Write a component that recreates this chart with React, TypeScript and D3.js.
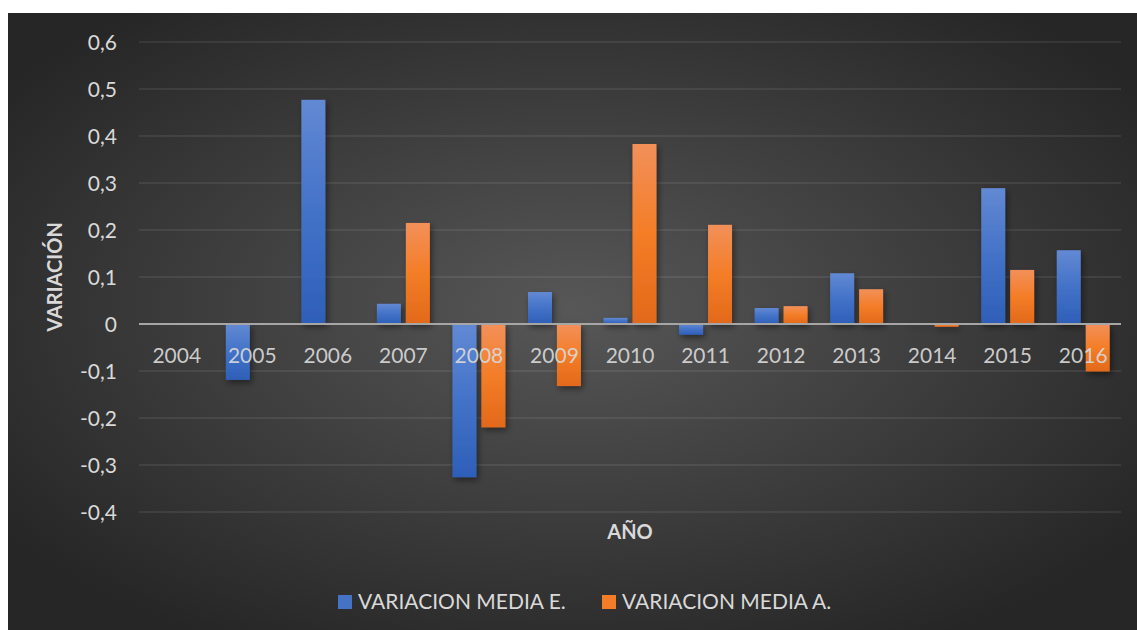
import React from "react";
import * as d3 from "d3";

const years = ["2004","2005","2006","2007","2008","2009","2010","2011","2012","2013","2014","2015","2016"];
const mediaE = [0, -0.119, 0.477, 0.043, -0.326, 0.068, 0.013, -0.023, 0.034, 0.108, 0.002, 0.289, 0.157];
const mediaA = [0, 0, 0, 0.215, -0.22, -0.132, 0.383, 0.211, 0.038, 0.074, -0.006, 0.115, -0.101];
const seriesNames = ["VARIACION MEDIA E.", "VARIACION MEDIA A."];
const yTicks = [-0.4, -0.3, -0.2, -0.1, 0, 0.1, 0.2, 0.3, 0.4, 0.5, 0.6];

const W = 1137;
const H = 630;
const FONT = "Lato, 'Open Sans', sans-serif";
const TEXT = "#d9d9d9";

const esLocale = d3.formatLocale({ decimal: ",", thousands: ".", grouping: [3], currency: ["", "€"], minus: "-" });
const fmt = esLocale.format(".1~f");

export default function App() {
  const x = d3.scaleBand<string>().domain(years).range([139, 1121]).paddingInner(0).paddingOuter(0);
  const xs = d3.scaleBand<string>().domain(["E", "A"]).range([0, x.bandwidth()]).paddingInner(0.172).paddingOuter(0.39);
  const y = d3.scaleLinear().domain([-0.4, 0.6]).range([512, 42]);

  const rows = years.map((yr, i) => ({ yr, E: mediaE[i], A: mediaA[i] }));
  const [x0, x1] = x.range();

  const bar = (key: "E" | "A", yr: string, v: number) => {
    const top = y(Math.max(0, v));
    const h = Math.abs(y(v) - y(0));
    return (
      <rect key={key + yr} x={(x(yr) ?? 0) + (xs(key) ?? 0)} y={top} width={xs.bandwidth()} height={h}
        fill={key === "E" ? "url(#gBlue)" : "url(#gOrange)"} />
    );
  };

  return (
    <svg width={W} height={H} style={{ position: "absolute", left: 0, top: 0, display: "block" }}>
      <defs>
        <radialGradient id="bg" cx="0.5" cy="0.48" r="0.62" gradientUnits="objectBoundingBox">
          <stop offset="0" stopColor="#575757" />
          <stop offset="1" stopColor="#262626" />
        </radialGradient>
        <linearGradient id="gBlue" x1="0" y1="0" x2="0" y2="1">
          <stop offset="0" stopColor="#6289d3" />
          <stop offset="0.5" stopColor="#4372c8" />
          <stop offset="1" stopColor="#2e5fb8" />
        </linearGradient>
        <linearGradient id="gOrange" x1="0" y1="0" x2="0" y2="1">
          <stop offset="0" stopColor="#f2905a" />
          <stop offset="0.5" stopColor="#f47d27" />
          <stop offset="1" stopColor="#e2691a" />
        </linearGradient>
        <filter id="shadow" x="-30%" y="-30%" width="160%" height="160%">
          <feDropShadow dx="2" dy="3" stdDeviation="3" floodColor="#000" floodOpacity="0.45" />
        </filter>
      </defs>
      <rect x={0} y={0} width={W} height={H} fill="#ffffff" />
      <rect x={8} y={13} width={W - 8} height={H - 13} fill="url(#bg)" />

      {/* horizontal gridlines */}
      <g>
        {yTicks.filter((t) => t !== 0).map((t) => (
          <line key={t} x1={x0} x2={x1} y1={y(t)} y2={y(t)} stroke="#ffffff" strokeOpacity={0.1} strokeWidth={1.5} />
        ))}
      </g>

      {/* bars */}
      <g filter="url(#shadow)">
        {rows.map((r) => [bar("E", r.yr, r.E), bar("A", r.yr, r.A)])}
      </g>

      {/* zero axis */}
      <line x1={x0} x2={x1} y1={y(0)} y2={y(0)} stroke="#a6a6a6" strokeWidth={2} />

      {/* y tick labels */}
      <g fontFamily={FONT} fontSize={21} fill={TEXT} textAnchor="end">
        {yTicks.map((t) => (
          <text key={t} x={117} y={y(t) + 7.5}>{fmt(t)}</text>
        ))}
      </g>

      {/* category labels */}
      <g fontFamily={FONT} fontSize={21} fill={TEXT} fillOpacity={0.92} textAnchor="middle">
        {years.map((yr) => (
          <text key={yr} x={(x(yr) ?? 0) + x.bandwidth() / 2} y={363}>{yr}</text>
        ))}
      </g>

      {/* axis titles */}
      <text transform={`translate(62,${(y(0.6) + y(-0.4)) / 2}) rotate(-90)`} textAnchor="middle"
        fontFamily={FONT} fontWeight="bold" fontSize={20} fill={TEXT}>VARIACIÓN</text>
      <text x={(x0 + x1) / 2} y={539} textAnchor="middle" fontFamily={FONT} fontWeight="bold" fontSize={20} fill={TEXT}>AÑO</text>

      {/* legend */}
      <g fontFamily={FONT} fontSize={21} fill={TEXT}>
        <rect x={338} y={595} width={14} height={14} fill="#4472c4" />
        <text x={358} y={609}>{seriesNames[0]}</text>
        <rect x={602} y={595} width={14} height={14} fill="#f47d27" />
        <text x={622} y={609}>{seriesNames[1]}</text>
      </g>
    </svg>
  );
}
